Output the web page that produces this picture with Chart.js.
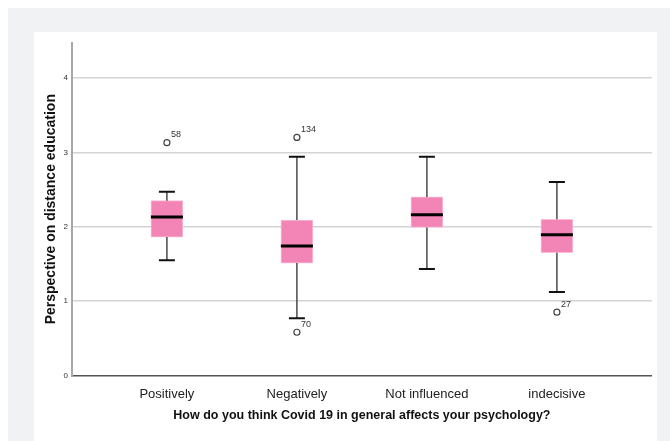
<!DOCTYPE html>
<html>
<head>
<meta charset="utf-8">
<script src="https://cdn.jsdelivr.net/npm/chart.js@4"></script>
<style>
  body { margin: 0; background: #fff; }
  #frame { position: absolute; left: 8px; top: 8px; width: 662px; height: 433px; background: #f1f2f4; }
  #panel { position: absolute; left: 34px; top: 32px; width: 623px; height: 409px; background: #fff; }
</style>
</head>
<body>
<div id="frame"></div>
<div id="panel"><canvas id="boxChart" width="623" height="409"></canvas></div>
<script>
// Box plot data
const categories = ['Positively', 'Negatively', 'Not influenced', 'indecisive'];
const whiskerLow  = [1.55, 0.77, 1.43, 1.12];
const q1          = [1.86, 1.51, 1.99, 1.65];
const medians     = [2.13, 1.74, 2.16, 1.89];
const q3          = [2.35, 2.09, 2.40, 2.10];
const whiskerHigh = [2.47, 2.94, 2.94, 2.60];
// outliers: category index, value, case label
const outlierCat   = [0, 1, 1, 3];
const outlierVal   = [3.13, 3.20, 0.58, 0.85];
const outlierLabel = ['58', '134', '70', '27'];
const yTicks = [0, 1, 2, 3, 4];

const boxPlotPlugin = {
    id: 'boxParts',
    afterDatasetsDraw(chart) {
        const ctx = chart.ctx;
        const xs = chart.scales.x, ys = chart.scales.y;
        ctx.save();
        categories.forEach((c, i) => {
            const cx = xs.getPixelForValue(i);
            const yLo = ys.getPixelForValue(whiskerLow[i]);
            const yHi = ys.getPixelForValue(whiskerHigh[i]);
            const yQ1 = ys.getPixelForValue(q1[i]);
            const yQ3 = ys.getPixelForValue(q3[i]);
            // whisker stems
            ctx.strokeStyle = '#4a4a4a';
            ctx.lineWidth = 1.5;
            ctx.beginPath();
            ctx.moveTo(cx, yHi); ctx.lineTo(cx, yQ3);
            ctx.moveTo(cx, yQ1); ctx.lineTo(cx, yLo);
            ctx.stroke();
            // caps
            ctx.strokeStyle = '#111';
            ctx.lineWidth = 2;
            ctx.beginPath();
            ctx.moveTo(cx - 8, yHi); ctx.lineTo(cx + 8, yHi);
            ctx.moveTo(cx - 8, yLo); ctx.lineTo(cx + 8, yLo);
            ctx.stroke();
            // median
            const ym = ys.getPixelForValue(medians[i]);
            ctx.strokeStyle = '#000';
            ctx.lineWidth = 3;
            ctx.beginPath();
            ctx.moveTo(cx - 16, ym); ctx.lineTo(cx + 16, ym);
            ctx.stroke();
        });
        // outlier case labels
        ctx.fillStyle = '#333';
        ctx.font = '9px "Liberation Sans", Arial, sans-serif';
        ctx.textAlign = 'left';
        ctx.textBaseline = 'middle';
        outlierVal.forEach((v, k) => {
            const px = xs.getPixelForValue(outlierCat[k]);
            const py = ys.getPixelForValue(v);
            ctx.fillText(outlierLabel[k], px + 4, py - 8);
        });
        ctx.restore();
    }
};

function createBoxChart() {
    const ctx = document.getElementById('boxChart');
    if (!ctx) return;

    new Chart(ctx, {
        type: 'bar',
        data: {
            datasets: [{
                label: 'IQR',
                data: categories.map((c, i) => ({ x: i, y: [q1[i], q3[i]] })),
                backgroundColor: '#f285b5',
                borderColor: '#f9bcd6',
                borderWidth: 1,
                borderSkipped: false,
                barThickness: 32,
                order: 2
            }, {
                type: 'scatter',
                label: 'Outliers',
                data: outlierVal.map((v, k) => ({ x: outlierCat[k], y: v })),
                pointStyle: 'circle',
                pointRadius: 3,
                pointBackgroundColor: '#fff',
                pointBorderColor: '#444',
                pointBorderWidth: 1.2,
                order: 1
            }]
        },
        options: {
            responsive: false,
            animation: false,
            layout: { padding: { top: 11, right: 5, left: 0, bottom: 0 } },
            plugins: {
                legend: { display: false },
                tooltip: { enabled: false }
            },
            scales: {
                x: {
                    type: 'linear',
                    offset: false,
                    min: -0.73,
                    max: 3.73,
                    afterBuildTicks: (scale) => {
                        scale.ticks = categories.map((c, i) => ({ value: i }));
                    },
                    afterFit: (scale) => { scale.height = 65.6; },
                    ticks: {
                        callback: (v) => categories[v],
                        color: '#222',
                        font: { family: '"Liberation Sans", Arial, sans-serif', size: 13 },
                        padding: 11,
                        maxRotation: 0,
                        autoSkip: false
                    },
                    grid: { display: false, drawTicks: false },
                    border: { color: '#555', width: 1.5 },
                    title: {
                        display: true,
                        text: 'How do you think Covid 19 in general affects your psychology?',
                        color: '#111',
                        font: { family: '"Liberation Sans", Arial, sans-serif', size: 12.5, weight: 'bold' },
                        padding: { top: 0, bottom: 17.5 }
                    }
                },
                y: {
                    min: 0,
                    max: 4.47,
                    afterBuildTicks: (scale) => {
                        scale.ticks = yTicks.map(v => ({ value: v }));
                    },
                    afterFit: (scale) => { scale.width = 38; },
                    ticks: {
                        color: '#333',
                        font: { family: '"Liberation Sans", Arial, sans-serif', size: 8 },
                        padding: 4
                    },
                    grid: {
                        color: (c) => c.tick && c.tick.value === 0 ? 'rgba(0,0,0,0)' : '#d3d3d3',
                        lineWidth: 1.5,
                        drawTicks: false
                    },
                    border: { color: '#a8a8a8', width: 2 },
                    title: {
                        display: true,
                        text: 'Perspective on distance education',
                        color: '#111',
                        font: { family: '"Liberation Sans", Arial, sans-serif', size: 14, weight: 'bold' },
                        padding: { top: 9, bottom: 0 }
                    }
                }
            }
        },
        plugins: [boxPlotPlugin]
    });
}

document.addEventListener('DOMContentLoaded', () => {
    createBoxChart();
});
</script>
</body>
</html>
